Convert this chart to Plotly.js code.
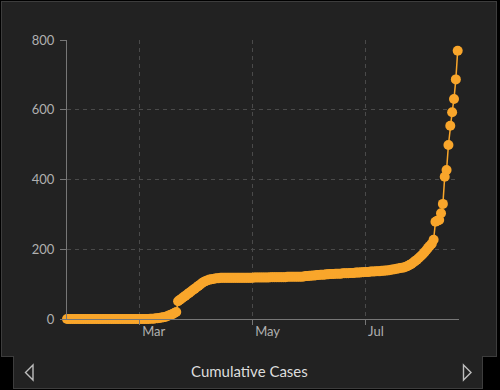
<!DOCTYPE html>
<html>
<head>
<meta charset="utf-8">
<script src="https://cdn.plot.ly/plotly-3.0.1.min.js"></script>
<style>
  html, body { margin: 0; padding: 0; background: #000; width: 500px; height: 390px; overflow: hidden; }
  #panel { position: absolute; left: 1px; top: 1px; width: 494px; height: 354px; background: #222222; border: 1px solid #3d3d3d; }
  #nav { position: absolute; left: 13px; top: 356px; width: 468px; height: 32px; background: #222222; border: 1px solid #3d3d3d; border-top: none; }
  #chart { position: absolute; left: 0; top: 0; width: 500px; height: 390px; }
  #arrows { position: absolute; left: 0; top: 0; width: 500px; height: 390px; pointer-events: none; }
</style>
</head>
<body>
<div id="panel"></div>
<div id="nav"></div>
<div id="chart"></div>
<svg id="arrows" width="500" height="390">
  <polygon points="33,365 25.5,372.5 33,380" fill="none" stroke="#bdbdbd" stroke-width="1.4" stroke-linejoin="miter"/>
  <polygon points="463.5,365 471,372.5 463.5,380" fill="none" stroke="#bdbdbd" stroke-width="1.4" stroke-linejoin="miter"/>
</svg>
<script>
// Daily cumulative cases starting 2020-01-22 (one value per day)
const startDate = '2020-01-22';
const cumulativeCases = [
  0,0,0,0,0,0,0,0,0,0,0,0,0,0,0,0,0,0,0,0,0,0,0,0,0,0,0,0,0,0,0,0,0,0,0,0,0,0,0,0,0,0,0,0,0,
  1,1,1,2,2,3,4,5,6,8,10,12,14,17,20,
  51,55,59,63,67,71,75,79,83,87,91,95,99,103,107,
  109,111,113,114,115,116,117,117,118,
  118,118,118,118,118,118,118,118,118,118,118,118,118,118,118,118,118,
  119,119,119,119,119,119,119,119,119,120,120,120,120,120,120,120,120,120,121,121,121,121,121,121,121,121,121,
  122,123,123,124,124,125,125,126,126,127,127,127,128,128,
  129,129,129,130,130,130,130,131,131,131,131,132,132,132,133,133,133,134,134,
  135,135,135,136,136,136,137,137,137,138,138,139,139,140,
  141,142,143,144,145,146,147,148,150,
  152,155,158,162,166,170,175,
  180,185,191,197,204,210,216,
  227,279,282,284,303,330,408,427,499,554,593,631,687,769
];
const xTickVals = ['2020-03-01', '2020-05-01', '2020-07-01'];
const xTickText = ['Mar', 'May', 'Jul'];
const yTickVals = [0, 200, 400, 600, 800];
const navTitle = 'Cumulative Cases';

// one date per value, consecutive days
const dates = [];
(function () {
  const d0 = new Date(startDate + 'T00:00:00Z');
  for (let i = 0; i < cumulativeCases.length; i++) {
    const d = new Date(d0.getTime() + i * 86400000);
    dates.push(d.toISOString().slice(0, 10));
  }
})();

const orange = '#f9a62b';
const font = "Lato, 'Open Sans', sans-serif";

const trace = {
  x: dates,
  y: cumulativeCases,
  type: 'scatter',
  mode: 'lines+markers',
  line: { color: orange, width: 1.5 },
  marker: { color: orange, size: 10 },
  cliponaxis: false,
  hoverinfo: 'skip'
};

const layout = {
  width: 500,
  height: 390,
  margin: { l: 67, r: 41, t: 40, b: 71 },
  paper_bgcolor: 'rgba(0,0,0,0)',
  plot_bgcolor: 'rgba(0,0,0,0)',
  showlegend: false,
  font: { family: font, color: '#b0b0b0', size: 13 },
  xaxis: {
    type: 'date',
    range: ['2020-01-22', '2020-08-20 17:00'],
    tickvals: xTickVals,
    ticktext: xTickText,
    ticks: 'outside',
    ticklen: 5,
    tickcolor: '#777777',
    ticklabelposition: 'outside right',
    ticklabelshift: 2,
    showline: true,
    linecolor: '#777777',
    linewidth: 1,
    showgrid: true,
    gridcolor: '#4a4a4a',
    griddash: '4px,4px',
    gridwidth: 1,
    zeroline: false,
    tickfont: { family: font, color: '#b0b0b0', size: 13 }
  },
  yaxis: {
    range: [0, 800],
    tickvals: yTickVals,
    ticks: 'outside',
    ticklen: 6,
    tickcolor: '#777777',
    ticklabelstandoff: 3,
    showline: true,
    linecolor: '#777777',
    linewidth: 1,
    showgrid: true,
    gridcolor: '#4a4a4a',
    griddash: '4px,4px',
    gridwidth: 1,
    zeroline: false,
    tickfont: { family: font, color: '#b0b0b0', size: 13 }
  },
  annotations: [{
    text: navTitle,
    xref: 'paper', yref: 'paper',
    x: (249 - 67) / 392, y: (319 - 371) / 279,
    xanchor: 'center', yanchor: 'middle',
    showarrow: false,
    font: { family: font, color: '#dddddd', size: 15 }
  }]
};

Plotly.newPlot('chart', [trace], layout, { displayModeBar: false, staticPlot: true });
</script>
</body>
</html>
